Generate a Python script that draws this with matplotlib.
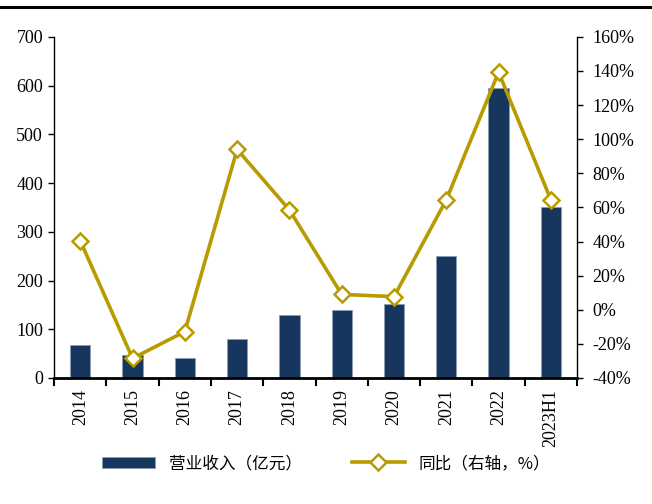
import numpy as np
import matplotlib.pyplot as plt
from matplotlib.lines import Line2D

plt.rcParams['font.family'] = ['Liberation Serif', 'Noto Sans CJK SC']

years = ["2014", "2015", "2016", "2017", "2018", "2019", "2020", "2021", "2022", "2023H1"]
revenue = [68, 48, 42, 81, 129, 140, 152, 250, 595, 351]
yoy = [40.4, -28.5, -12.8, 94.0, 58.5, 9.0, 7.7, 64.4, 139.3, 64.4]

bar_color = "#17365D"
line_color = "#B89B00"

fig = plt.figure(figsize=(6.52, 5.04), dpi=100)
ax = fig.add_axes([0.083, 0.25, 0.802, 0.677])
x = np.arange(len(years))

bars = ax.bar(x, revenue, width=0.39, color=bar_color, edgecolor="#8C9CB4", linewidth=0.6,
              label="营业收入（亿元）", zorder=2)
ax.set_ylim(0, 700)
ax.set_yticks(range(0, 701, 100))
ax.set_xlim(-0.5, len(years) - 0.5)
ax.set_xticks(x)
ax.set_xticklabels(years, rotation=90, fontsize=13)
ax.tick_params(axis="x", length=0, pad=8)
ax.set_xticks(np.arange(-0.5, len(years), 1), minor=True)
ax.tick_params(axis="x", which="minor", length=6, width=1.5, direction="out")
ax.tick_params(axis="y", labelsize=13, length=4, width=1, direction="out", pad=4)

for s in ["top", "right"]:
    ax.spines[s].set_visible(False)
ax.spines["bottom"].set_linewidth(2)
ax.spines["left"].set_linewidth(1)

ax2 = ax.twinx()
line, = ax2.plot(x, yoy, color=line_color, linewidth=2.6, marker="D", markersize=8,
                 markerfacecolor="white", markeredgecolor=line_color, markeredgewidth=1.8,
                 label="同比（右轴，%）", zorder=3)
ax2.set_ylim(-40, 160)
ax2.set_yticks(range(-40, 161, 20))
ax2.set_yticklabels([f"{v}%" for v in range(-40, 161, 20)])
ax2.tick_params(axis="y", labelsize=13, length=4, width=1, direction="out", pad=7)
for s in ["top", "left", "bottom"]:
    ax2.spines[s].set_visible(False)
ax2.spines["right"].set_linewidth(1)

fig.legend([bars, line], ["营业收入（亿元）", "同比（右轴，%）"], loc="center",
           bbox_to_anchor=(0.5, 0.08), ncol=2, frameon=False, handlelength=3.2,
           columnspacing=3, prop={"family": ["Noto Sans CJK SC"], "size": 12})

fig.add_artist(Line2D([0, 1], [1 - 7 / 504, 1 - 7 / 504], color="black", linewidth=2.2,
                      transform=fig.transFigure))

fig.savefig("out.png", dpi=100)
